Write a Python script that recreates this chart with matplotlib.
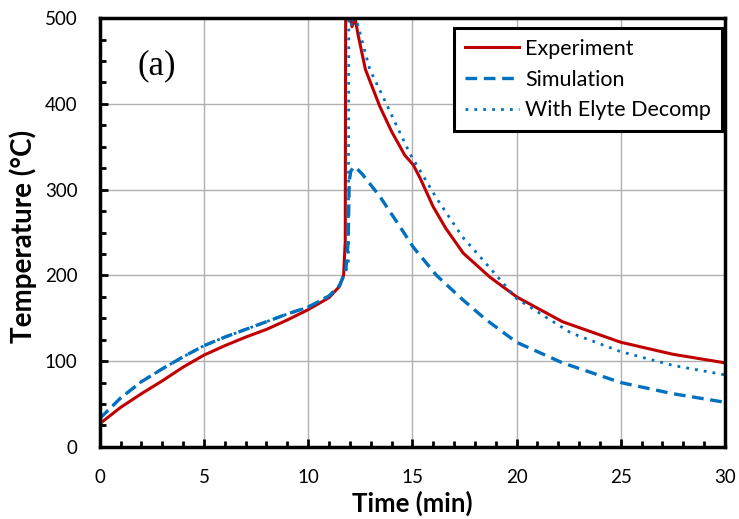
import matplotlib

matplotlib.use("Agg")
import matplotlib.pyplot as plt
from matplotlib.ticker import MultipleLocator

# Experiment (thermocouple) trace
exp_time = [0, 1, 2, 3, 4, 5, 6, 7, 8, 9, 10, 11, 11.5, 11.7, 11.78, 11.8,
            12.0, 12.1, 12.25, 12.4, 12.75, 13.44, 14.0, 14.64, 15.04, 15.4,
            16.0, 16.6, 17.44, 18.72, 20, 22.2, 25, 27.5, 30]
exp_temp = [27, 46, 62, 77, 93, 107, 118, 128, 137, 148, 160, 174, 187, 200, 240, 510,
            505, 490, 500, 480, 440, 397, 368, 340, 329, 312,
            280, 255, 226, 198, 175, 146, 122, 108, 98]

# Simulation without electrolyte decomposition
sim_time = [0, 1, 2, 3, 4, 5, 6, 7, 8, 9, 10, 11, 11.5, 11.8, 11.92, 11.97,
            12.05, 12.24, 12.6, 13.44, 14.4, 15.04, 16.16, 17.4, 18.5, 20,
            22.2, 25, 27.5, 30]
sim_temp = [33, 57, 76, 91, 105, 118, 128, 137, 146, 155, 163, 176, 188, 205, 240, 310,
            322, 327, 318, 292, 257, 233, 200, 172, 149, 122,
            98, 75, 62, 52]

# Simulation with electrolyte decomposition
dec_time = [0, 1, 2, 3, 4, 5, 6, 7, 8, 9, 10, 11, 11.5, 11.8, 11.93, 11.95,
            12.0, 12.1, 12.2, 12.35, 12.96, 13.44, 14.88, 16.16, 17.4, 18.24,
            20, 22.6, 25, 27.5, 30]
dec_temp = [33, 57, 76, 91, 105, 118, 128, 137, 146, 155, 163, 176, 188, 205, 215, 510,
            505, 490, 505, 495, 440, 416, 342, 290, 245, 222,
            173, 133, 111, 95, 84]

RED = "#c00000"
BLUE = "#0070c0"

plt.rcParams["font.family"] = ["Lato", "DejaVu Sans"]

fig = plt.figure(figsize=(7.39, 5.19), dpi=100)
ax = fig.add_axes([0.135, 0.139, 0.846, 0.826])

ax.plot(exp_time, exp_temp, color=RED, linewidth=2.2, label="Experiment")
ax.plot(sim_time, sim_temp, color=BLUE, linewidth=2.4, linestyle=(0, (3.5, 2)),
        label="Simulation")
ax.plot(dec_time, dec_temp, color=BLUE, linewidth=2.0, linestyle=(0, (1, 2.2)),
        label="With Elyte Decomp")

ax.set_xlim(0, 30)
ax.set_ylim(0, 500)
ax.xaxis.set_major_locator(MultipleLocator(5))
ax.xaxis.set_minor_locator(MultipleLocator(1))
ax.yaxis.set_major_locator(MultipleLocator(100))
ax.yaxis.set_minor_locator(MultipleLocator(25))
ax.tick_params(which="both", direction="in", width=2, labelsize=13.5)
ax.tick_params(axis="x", which="both", pad=16)
ax.tick_params(axis="y", which="both", pad=16)
ax.tick_params(which="major", length=6)
ax.tick_params(which="minor", length=4)
ax.grid(True, which="major", color="#b0b0b0", linewidth=1.0)
ax.set_axisbelow(True)
for spine in ax.spines.values():
    spine.set_linewidth(2.5)
    spine.set_color("black")

ax.set_xlabel("Time (min)", fontsize=18.5, fontweight="bold")
ax.set_ylabel("Temperature (°C)", fontsize=20, fontweight="bold")
ax.xaxis.set_label_coords(0.5, -0.102)
ax.yaxis.set_label_coords(-0.10, 0.49)

ax.text(0.091, 0.89, "(a)", transform=ax.transAxes, fontsize=25,
        family="Liberation Serif", va="center", ha="center")

leg = ax.legend(loc="upper right", bbox_to_anchor=(0.995, 0.977), fontsize=15.5,
                handlelength=2.5, handletextpad=0.3, borderpad=0.5,
                labelspacing=0.5, frameon=True, fancybox=False,
                edgecolor="black", framealpha=1.0, borderaxespad=0)
leg.get_frame().set_linewidth(2.2)

fig.savefig("out.png", dpi=100)
